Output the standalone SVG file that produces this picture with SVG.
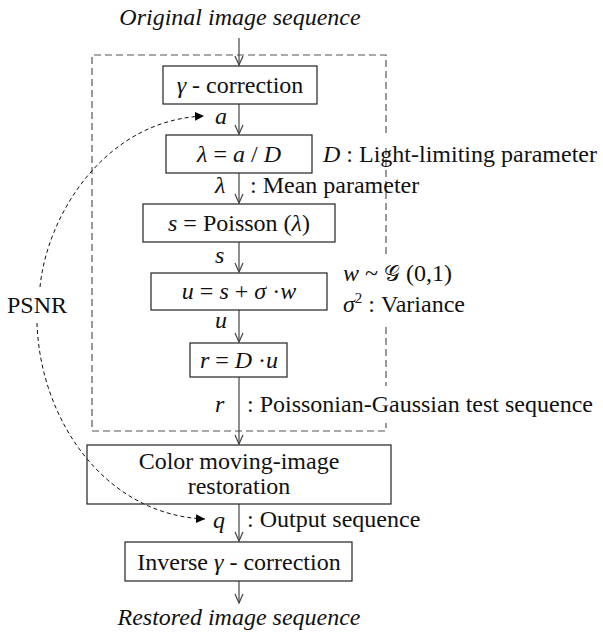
<svg xmlns="http://www.w3.org/2000/svg" width="603" height="635" viewBox="0 0 603 635" font-family="'Liberation Serif', 'Times New Roman', 'DejaVu Serif', serif" font-size="24">
<style>
  text { fill: #111; }
  .c { text-anchor: middle; }
  .i { font-style: italic; }
  .box { fill: none; stroke: #222; stroke-width: 1.2; }
  .arrow { fill: none; stroke: #444; stroke-width: 1.2; marker-end: url(#open); }
  .frame { fill: none; stroke: #555; stroke-width: 1.2; stroke-dasharray: 7 4; }
  .psnr { fill: none; stroke: #111; stroke-width: 1; stroke-dasharray: 4 3; marker-end: url(#solid); }
</style>
<defs>
  <marker id="open" viewBox="0 0 12 10" refX="10" refY="5" markerWidth="12" markerHeight="10" orient="auto" markerUnits="userSpaceOnUse">
    <path d="M1,1 L10,5 L1,9" fill="none" stroke="#444" stroke-width="1.2"/>
  </marker>
  <marker id="solid" viewBox="0 0 10 10" refX="9" refY="5" markerWidth="10" markerHeight="10" orient="auto" markerUnits="userSpaceOnUse">
    <path d="M0,0.5 L9,5 L0,9.5 z" fill="#000"/>
  </marker>
</defs>

<!-- dashed frame -->
<g id="frame">
  <path class="frame" d="M386,133 L386,55 L92,55 L92,431 L386,431 L386,423"/>
  <path class="frame" d="M386,148 L386,256"/>
  <path class="frame" d="M386,327 L386,386"/>
</g>

<!-- connectors -->
<g id="connectors">
  <line class="arrow" x1="239" y1="38" x2="239" y2="65"/>
  <line class="arrow" x1="239" y1="104" x2="239" y2="134"/>
  <line class="arrow" x1="239" y1="173" x2="239" y2="203"/>
  <line class="arrow" x1="239" y1="242" x2="239" y2="272"/>
  <line class="arrow" x1="239" y1="310" x2="239" y2="342"/>
  <line class="arrow" x1="239" y1="377" x2="239" y2="444"/>
  <line class="arrow" x1="239" y1="504" x2="239" y2="541"/>
  <line class="arrow" x1="239" y1="581" x2="239" y2="603"/>
  <path class="psnr" d="M40,287 C47,215 105,120 204,116"/>
  <path class="psnr" d="M37,323 C40,420 105,515 205,519"/>
</g>

<g id="input-label">
  <text class="c i" x="240" y="25">Original image sequence</text>
</g>

<g id="gamma">
  <rect class="box" x="163" y="66" width="154" height="38"/>
  <text class="c" x="240" y="93"><tspan class="i">γ</tspan> - correction</text>
</g>
<text class="i" x="215" y="124">a</text>

<g id="lambda">
  <rect class="box" x="166" y="135" width="146" height="38"/>
  <text class="c" x="239" y="162"><tspan class="i">λ</tspan> = <tspan class="i">a</tspan> / <tspan class="i">D</tspan></text>
</g>
<text x="323" y="162"><tspan class="i">D</tspan> : Light-limiting parameter</text>
<text class="i" x="215" y="193">λ</text>
<text x="250" y="193">: Mean parameter</text>

<g id="poisson">
  <rect class="box" x="143" y="204" width="192" height="38"/>
  <text class="c" x="239" y="231"><tspan class="i">s</tspan> = Poisson (<tspan class="i">λ</tspan>)</text>
</g>
<text class="i" x="215" y="263">s</text>

<g id="noise">
  <rect class="box" x="151" y="273" width="176" height="37"/>
  <text class="c" x="239" y="299"><tspan class="i">u</tspan> = <tspan class="i">s</tspan> + <tspan class="i">σ</tspan> ·<tspan class="i">w</tspan></text>
</g>
<text x="343" y="281"><tspan class="i">w</tspan> ~ <tspan font-family="'DejaVu Serif', 'DejaVu Sans', serif" font-size="22">𝒢</tspan> (0,1)</text>
<text x="343" y="312"><tspan class="i">σ</tspan><tspan font-size="15" dy="-9">2</tspan><tspan dy="9"> : Variance</tspan></text>
<text class="i" x="215" y="328">u</text>

<g id="scale">
  <rect class="box" x="190" y="343" width="97" height="34"/>
  <text class="c" x="239" y="368"><tspan class="i">r</tspan> = <tspan class="i">D</tspan> ·<tspan class="i">u</tspan></text>
</g>
<text class="i" x="215" y="412">r</text>
<text x="247" y="412">: Poissonian-Gaussian test sequence</text>

<g id="restoration">
  <rect class="box" x="87" y="445" width="304" height="59"/>
  <text class="c" x="239" y="469">Color moving-image</text>
  <text class="c" x="239" y="494">restoration</text>
</g>
<text class="i" x="213" y="528">q</text>
<text x="247" y="527">: Output sequence</text>

<g id="inverse">
  <rect class="box" x="125" y="542" width="227" height="39"/>
  <text class="c" x="239" y="570">Inverse <tspan class="i">γ</tspan> - correction</text>
</g>

<g id="output-label">
  <text class="c i" x="239" y="625">Restored image sequence</text>
</g>

<g id="psnr-label">
  <text x="7" y="313">PSNR</text>
</g>
</svg>
